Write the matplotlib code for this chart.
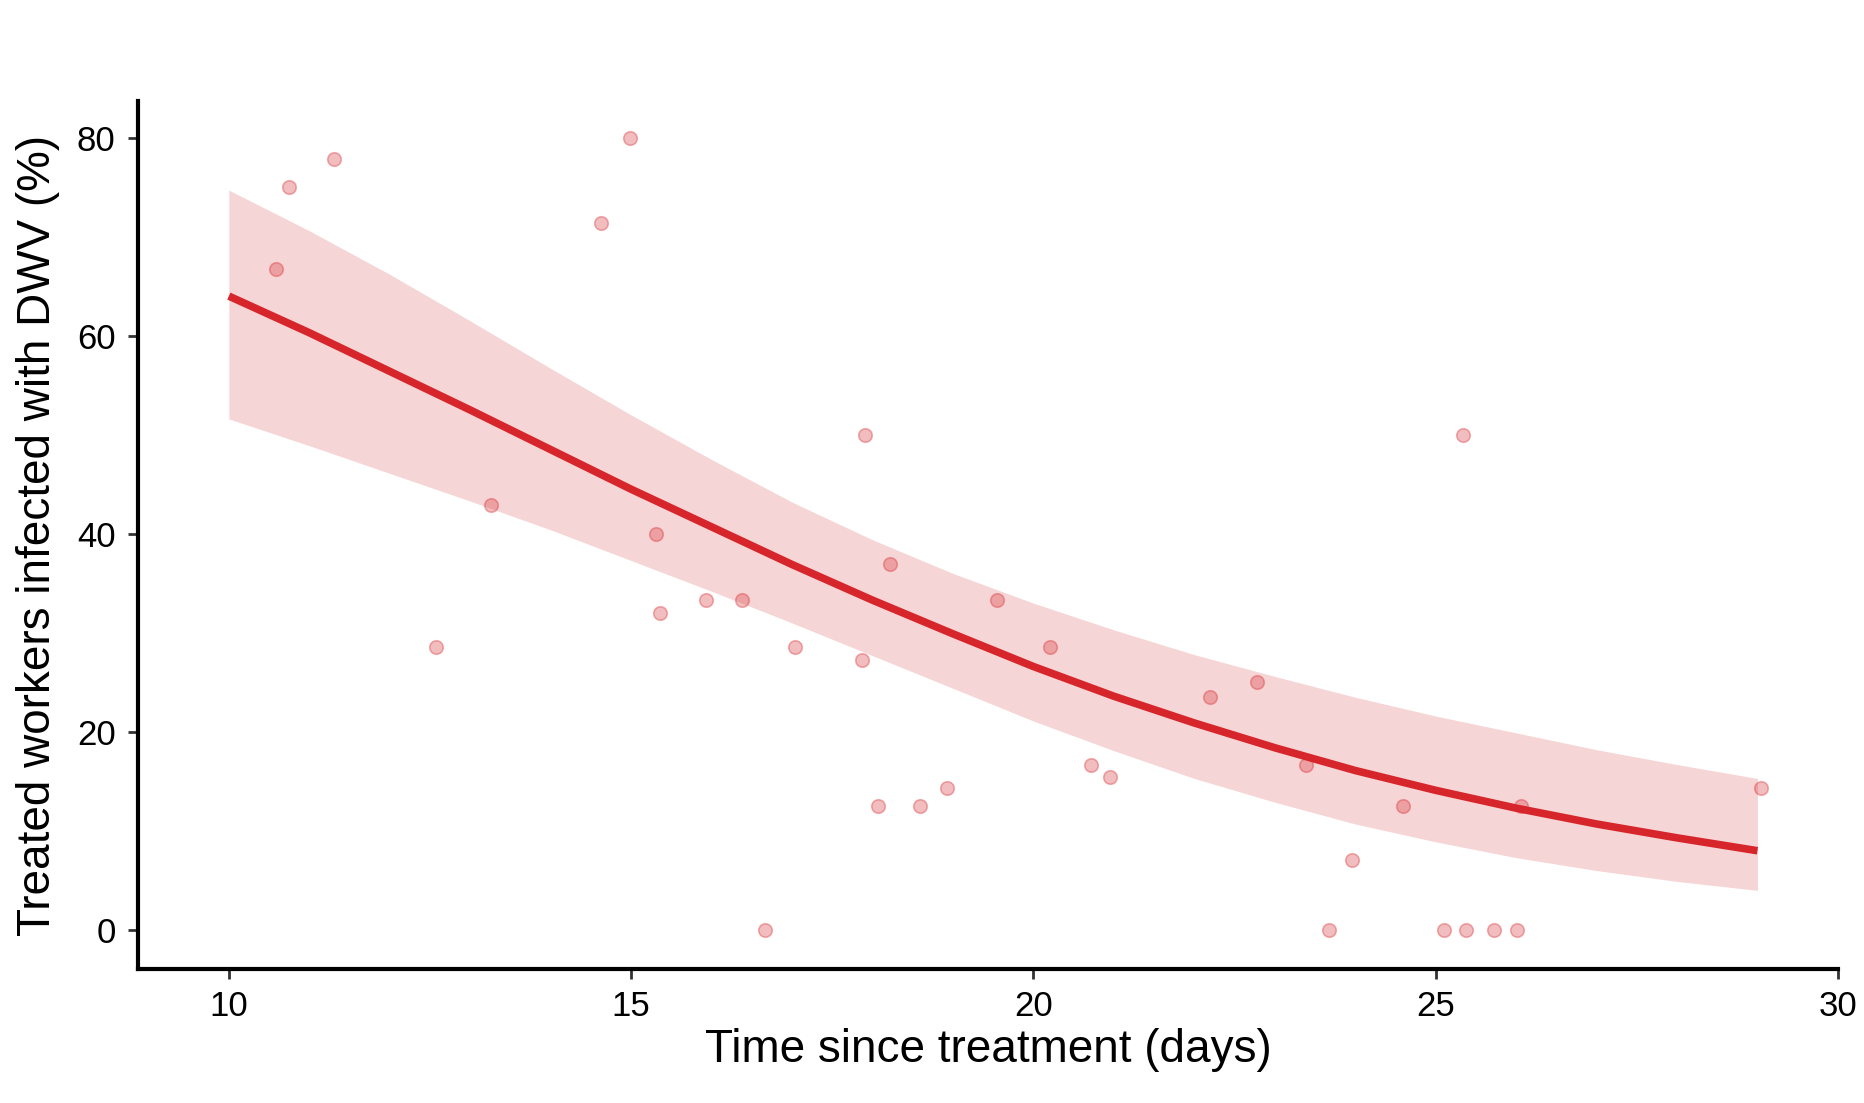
import numpy as np
import matplotlib
matplotlib.use("Agg")
import matplotlib.pyplot as plt

plt.rcParams['font.family'] = ['Liberation Sans', 'DejaVu Sans']

# observed colonies: days since treatment, % treated workers with DWV
days = [10.58, 10.75, 11.31, 12.58, 13.26, 14.63, 14.99, 15.31, 15.36, 15.93,
        16.38, 16.67, 17.04, 17.87, 17.91, 18.07, 18.22, 18.59, 18.93, 19.55,
        20.21, 20.72, 20.95, 22.19, 22.78, 23.39, 23.67, 23.96, 24.60, 25.11,
        25.34, 25.38, 25.73, 26.01, 26.06, 29.04]
infected = [66.7, 75.0, 77.8, 28.6, 42.9, 71.4, 80.0, 40.0, 32.0, 33.3,
            33.3, 0.0, 28.6, 27.3, 50.0, 12.5, 37.0, 12.5, 14.3, 33.3,
            28.6, 16.7, 15.4, 23.5, 25.0, 16.7, 0.0, 7.1, 12.5, 0.0,
            50.0, 0.0, 0.0, 0.0, 12.5, 14.3]

# fitted curve and 95% band
fit_days = list(range(10, 30))
fit = [64.0, 60.3, 56.4, 52.5, 48.5, 44.5, 40.7, 36.9, 33.3, 29.9,
       26.6, 23.6, 20.9, 18.4, 16.1, 14.1, 12.3, 10.7, 9.3, 8.0]
upper = [74.7, 70.6, 66.2, 61.5, 56.7, 52.0, 47.5, 43.2, 39.4, 36.0,
         33.0, 30.3, 27.8, 25.6, 23.5, 21.6, 19.9, 18.2, 16.7, 15.3]
lower = [51.6, 48.9, 46.1, 43.3, 40.4, 37.3, 34.2, 31.0, 27.7, 24.4,
         21.1, 18.1, 15.3, 12.9, 10.7, 8.9, 7.3, 6.0, 4.9, 4.0]

red = '#d7262b'

fig = plt.figure(figsize=(18.64, 11.03), dpi=100)
ax = fig.add_axes([0.074, 0.1215, 0.912, 0.7865])

ax.fill_between(fit_days, lower, upper, color='#f6d5d6', linewidth=0, zorder=1)
ax.scatter(days, infected, s=95, facecolor=(0.84, 0.15, 0.17, 0.3),
           edgecolor=(0.84, 0.15, 0.17, 0.35), linewidth=1.2, zorder=2)
ax.plot(fit_days, fit, color=red, linewidth=5.5, solid_capstyle='butt',
        solid_joinstyle='round', zorder=3)

ax.set_xlim(8.87, 30)
ax.set_ylim(-3.94, 83.65)
ax.set_xticks([10, 15, 20, 25, 30])
ax.set_yticks([0, 20, 40, 60, 80])

for side in ['top', 'right']:
    ax.spines[side].set_visible(False)
for side in ['left', 'bottom']:
    ax.spines[side].set_linewidth(3)
    ax.spines[side].set_color('black')

ax.tick_params(axis='both', length=7, width=2, color='#333333',
               labelsize=25, labelcolor='black')
ax.tick_params(axis='y', pad=9)
ax.tick_params(axis='x', pad=8)

ax.set_xlabel('Time since treatment (days)', fontsize=33, labelpad=4)
ax.set_ylabel('Treated workers infected with DWV (%)', fontsize=33, labelpad=12)

fig.savefig('out.png', dpi=100, facecolor='white')
